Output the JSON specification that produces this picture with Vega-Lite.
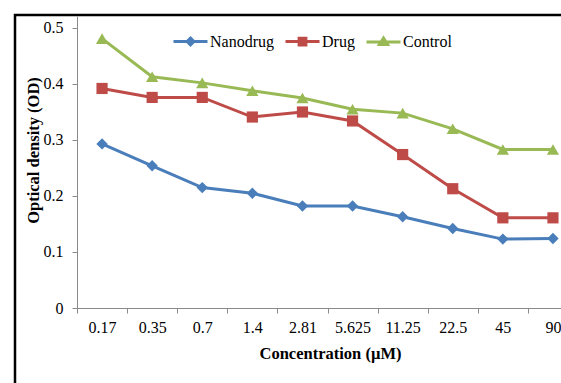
{
  "$schema": "https://vega.github.io/schema/vega-lite/v6.json",
  "width": 600,
  "height": 420,
  "autosize": {"type": "none"},
  "padding": {"left": 15, "top": 15, "right": -54, "bottom": -52},
  "background": "white",
  "config": {
    "view": {"stroke": "black", "strokeWidth": 2.5},
    "font": "Liberation Serif"
  },
  "data": {
    "values": [
      {"conc": "0.17", "series": "Nanodrug", "od": 0.293},
      {"conc": "0.35", "series": "Nanodrug", "od": 0.254},
      {"conc": "0.7", "series": "Nanodrug", "od": 0.215},
      {"conc": "1.4", "series": "Nanodrug", "od": 0.205},
      {"conc": "2.81", "series": "Nanodrug", "od": 0.182},
      {"conc": "5.625", "series": "Nanodrug", "od": 0.182},
      {"conc": "11.25", "series": "Nanodrug", "od": 0.163},
      {"conc": "22.5", "series": "Nanodrug", "od": 0.142},
      {"conc": "45", "series": "Nanodrug", "od": 0.123},
      {"conc": "90", "series": "Nanodrug", "od": 0.124},
      {"conc": "0.17", "series": "Drug", "od": 0.392},
      {"conc": "0.35", "series": "Drug", "od": 0.376},
      {"conc": "0.7", "series": "Drug", "od": 0.376},
      {"conc": "1.4", "series": "Drug", "od": 0.341},
      {"conc": "2.81", "series": "Drug", "od": 0.350},
      {"conc": "5.625", "series": "Drug", "od": 0.334},
      {"conc": "11.25", "series": "Drug", "od": 0.274},
      {"conc": "22.5", "series": "Drug", "od": 0.213},
      {"conc": "45", "series": "Drug", "od": 0.161},
      {"conc": "90", "series": "Drug", "od": 0.161},
      {"conc": "0.17", "series": "Control", "od": 0.481},
      {"conc": "0.35", "series": "Control", "od": 0.413},
      {"conc": "0.7", "series": "Control", "od": 0.402},
      {"conc": "1.4", "series": "Control", "od": 0.388},
      {"conc": "2.81", "series": "Control", "od": 0.375},
      {"conc": "5.625", "series": "Control", "od": 0.355},
      {"conc": "11.25", "series": "Control", "od": 0.348},
      {"conc": "22.5", "series": "Control", "od": 0.320},
      {"conc": "45", "series": "Control", "od": 0.283},
      {"conc": "90", "series": "Control", "od": 0.283}
    ]
  },
  "encoding": {
    "x": {
      "field": "conc",
      "type": "ordinal",
      "sort": ["0.17", "0.35", "0.7", "1.4", "2.81", "5.625", "11.25", "22.5", "45", "90"],
      "scale": {"type": "band", "range": [62, 563], "paddingInner": 0, "paddingOuter": 0},
      "axis": {
        "title": "Concentration (µM)",
        "titleFont": "Liberation Serif",
        "titleFontSize": 16.5,
        "titleFontWeight": "bold",
        "titleColor": "black",
        "titleX": 315,
        "titleY": 50,
        "titleAlign": "center",
        "titleBaseline": "alphabetic",
        "labelAngle": 0,
        "labelFont": "Liberation Serif",
        "labelFontSize": 16,
        "labelColor": "black",
        "labelPadding": 6,
        "tickBand": "extent",
        "tickSize": 5,
        "tickColor": "#8a8a8a",
        "domainColor": "#8a8a8a",
        "offset": -127,
        "grid": false
      }
    },
    "y": {
      "field": "od",
      "type": "quantitative",
      "scale": {"domain": [0, 0.5214], "range": [293, 1], "nice": false},
      "axis": {
        "title": "Optical density (OD)",
        "values": [0, 0.1, 0.2, 0.3, 0.4, 0.5],
        "format": "~g",
        "titleFont": "Liberation Serif",
        "titleFontSize": 16.5,
        "titleFontWeight": "bold",
        "titleColor": "black",
        "titleAngle": -90,
        "titleX": -39,
        "titleY": 135,
        "titleAlign": "center",
        "titleBaseline": "alphabetic",
        "labelFont": "Liberation Serif",
        "labelFontSize": 16,
        "labelColor": "black",
        "labelPadding": 9,
        "tickSize": 5,
        "tickColor": "#8a8a8a",
        "domainColor": "#8a8a8a",
        "offset": -62,
        "grid": false
      }
    },
    "color": {
      "field": "series",
      "type": "nominal",
      "scale": {"domain": ["Nanodrug", "Drug", "Control"], "range": ["#4A7EBB", "#BE4B48", "#98B954"]},
      "legend": {
        "orient": "none",
        "legendX": 157,
        "legendY": 8,
        "direction": "horizontal",
        "title": null,
        "symbolSize": 1156,
        "symbolStrokeWidth": 3,
        "symbolOpacity": 1,
        "labelFont": "Liberation Serif",
        "labelFontSize": 16,
        "labelColor": "black",
        "labelOffset": 1,
        "columnPadding": 5,
        "padding": 0,
        "encode": {"symbols": {"update": {"opacity": {"value": 1}, "strokeWidth": {"value": 3}, "stroke": {"scale": "color", "field": "value"}, "fill": {"scale": "color", "field": "value"}}}}
      }
    }
  },
  "layer": [
    {"mark": {"type": "line", "strokeWidth": 3}},
    {
      "transform": [{"filter": "datum.series === 'Nanodrug'"}],
      "mark": {"type": "point", "filled": true, "shape": "diamond", "size": 130, "opacity": 1}
    },
    {
      "transform": [{"filter": "datum.series === 'Drug'"}],
      "mark": {"type": "point", "filled": true, "shape": "square", "size": 125, "opacity": 1}
    },
    {
      "transform": [{"filter": "datum.series === 'Control'"}],
      "mark": {"type": "point", "filled": true, "shape": "triangle-up", "size": 150, "opacity": 1}
    },
    {
      "mark": {"type": "point", "filled": true, "opacity": 0},
      "encoding": {
        "shape": {
          "field": "series",
          "type": "nominal",
          "scale": {
            "domain": ["Nanodrug", "Drug", "Control"],
            "range": [
              "M-1,0L1,0M0,-0.2L0.2,0L0,0.2L-0.2,0Z",
              "M-1,0L1,0M-0.2,-0.2L0.2,-0.2L0.2,0.2L-0.2,0.2Z",
              "M-1,0L1,0M0,-0.22L0.24,0.16L-0.24,0.16Z"
            ]
          },
          "legend": {
            "orient": "none",
            "legendX": 157,
            "legendY": 8,
            "direction": "horizontal",
            "title": null,
            "symbolSize": 1156,
            "symbolStrokeWidth": 3,
            "symbolOpacity": 1,
            "labelFont": "Liberation Serif",
            "labelFontSize": 16,
            "labelColor": "black",
            "labelOffset": 1,
            "columnPadding": 5,
            "padding": 0,
            "encode": {"symbols": {"update": {"opacity": {"value": 1}, "strokeWidth": {"value": 3}, "stroke": {"scale": "color", "field": "value"}, "fill": {"scale": "color", "field": "value"}}}}
          }
        }
      }
    }
  ]
}
